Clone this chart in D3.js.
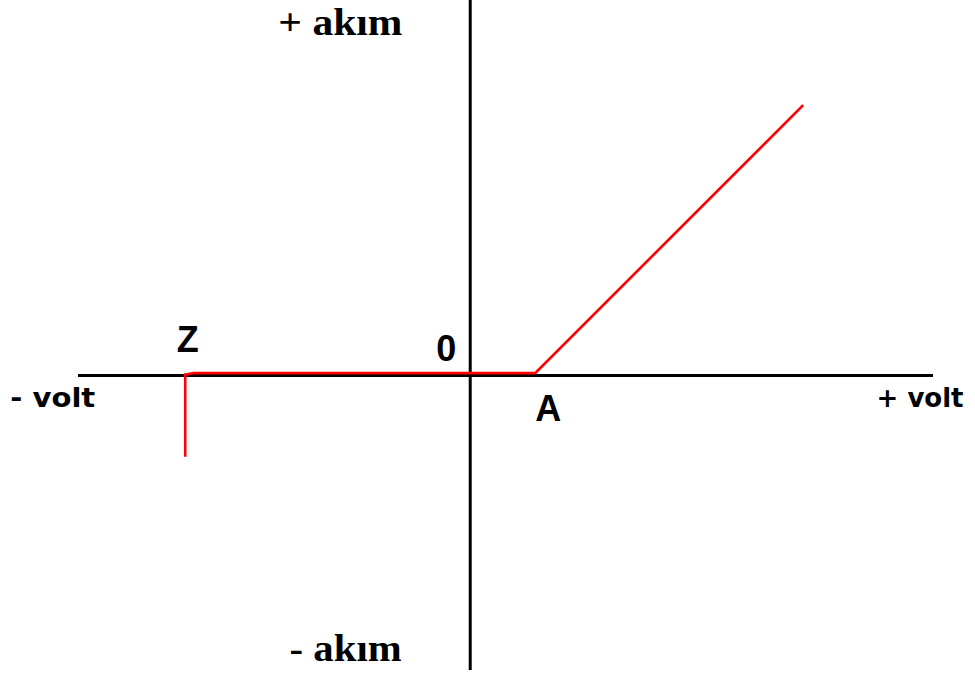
<!DOCTYPE html>
<html>
<head>
<meta charset="utf-8">
<script src="https://cdn.jsdelivr.net/npm/d3@7"></script>
<style>
  body { margin: 0; background: #fff; }
  svg { display: block; }
</style>
</head>
<body>
<div id="graph"></div>
<script>
// volt (x) / akim (y) in arbitrary units, origin where the axes cross
var voltExtent = [-13.9, 16.4]
var akimExtent = [-9.8, 12.5]

// diode curve: zener breakdown at Z, flat, knee at A, then rising
var curveVolt = [-10.1, -10.1, -9.8, 2.3, 11.8]
var curveAkim = [-2.7, 0.03, 0.08, 0.08, 9]

var pointLabels = [
  {name: 'Z', v: -10.4, a: 0.8},
  {name: '0', v: -1.2, a: 0.5},
  {name: 'A', v: 2.3, a: -1.5}
]

var axisLabels = [
  {name: '+ akım', v: -6.8, a: 11.35, len: 124, serif: true},
  {name: '- akım', v: -6.4, a: -9.5, len: 112, serif: true},
  {name: '- volt', v: -16.3, a: -1.05, len: 85, serif: false},
  {name: '+ volt', v: 14.4, a: -1.05, len: 87, serif: false}
]

var width = 975, height = 675

var svg = d3.select('#graph').append('svg')
  .attr('width', width)
  .attr('height', height)

var x = d3.scaleLinear().domain(voltExtent).range([78, 933])
var y = d3.scaleLinear().domain(akimExtent).range([670, 0])

// axes
svg.append('line')
  .attr('x1', x(voltExtent[0])).attr('x2', x(voltExtent[1]))
  .attr('y1', y(0)).attr('y2', y(0))
  .attr('stroke', '#000').attr('stroke-width', 3)

svg.append('line')
  .attr('x1', x(0)).attr('x2', x(0))
  .attr('y1', y(akimExtent[1])).attr('y2', y(akimExtent[0]))
  .attr('stroke', '#000').attr('stroke-width', 3)

// curve
var pts = curveVolt.map((v, i) => [v, curveAkim[i]])
var line = d3.line()
  .x(d => x(d[0]))
  .y(d => y(d[1]))

svg.append('path')
  .attr('d', line(pts))
  .attr('fill', 'none')
  .attr('stroke', '#ff0000')
  .attr('stroke-width', 2.6)
  .attr('stroke-linejoin', 'miter')

// labels
svg.selectAll('text.pt').data(pointLabels).join('text')
  .attr('class', 'pt')
  .attr('x', d => x(d.v))
  .attr('y', d => y(d.a))
  .attr('font-family', '"Liberation Sans", Arial, sans-serif')
  .attr('font-weight', 'bold')
  .attr('font-size', 36)
  .attr('fill', '#000')
  .text(d => d.name)

svg.selectAll('text.ax').data(axisLabels).join('text')
  .attr('class', 'ax')
  .attr('x', d => x(d.v))
  .attr('y', d => y(d.a))
  .attr('font-family', d => d.serif ? '"Liberation Serif", "Times New Roman", serif' : '"DejaVu Sans", sans-serif')
  .attr('font-weight', 'bold')
  .attr('font-size', d => d.serif ? 37 : 26)
  .attr('textLength', d => d.len)
  .attr('lengthAdjust', 'spacingAndGlyphs')
  .attr('fill', '#000')
  .text(d => d.name)
</script>
</body>
</html>
